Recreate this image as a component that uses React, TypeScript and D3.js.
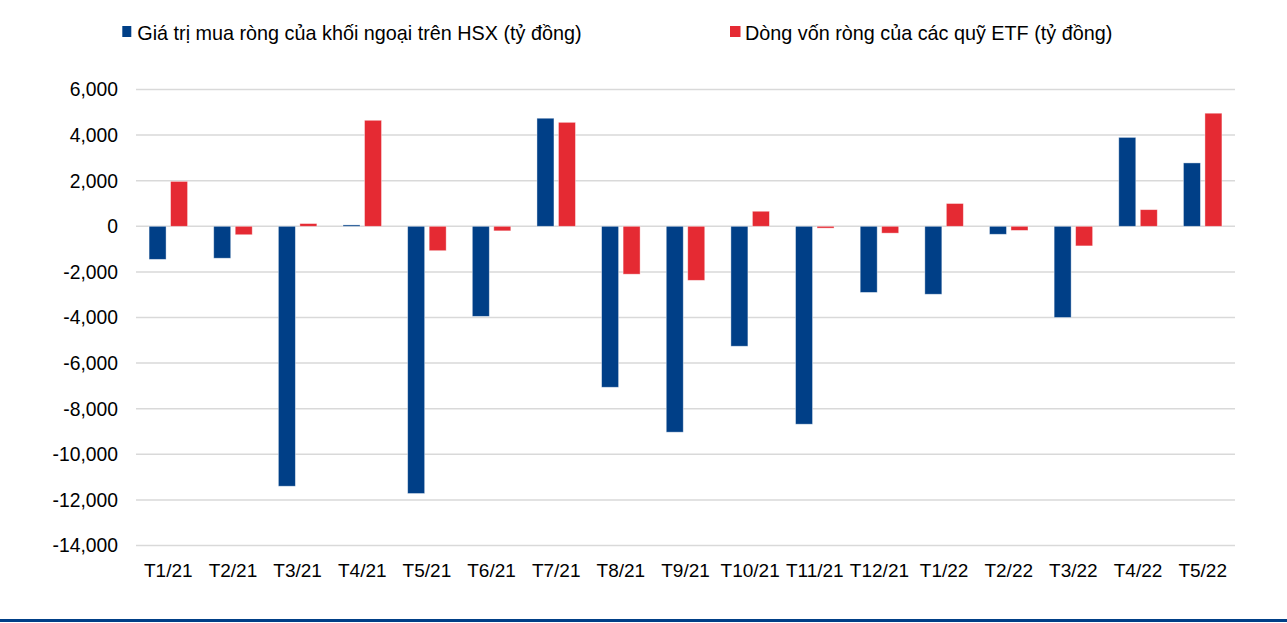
import React from "react";
import * as d3 from "d3";

const categories = ["T1/21","T2/21","T3/21","T4/21","T5/21","T6/21","T7/21","T8/21","T9/21","T10/21","T11/21","T12/21","T1/22","T2/22","T3/22","T4/22","T5/22"];
const foreignNet = [-1450,-1400,-11400,60,-11720,-3950,4740,-7060,-9030,-5260,-8680,-2900,-2980,-350,-4000,3900,2780];
const etfFlow = [1970,-370,120,4650,-1070,-200,4560,-2100,-2370,660,-80,-300,1000,-180,-860,730,4960];
const yTicks = [6000,4000,2000,0,-2000,-4000,-6000,-8000,-10000,-12000,-14000];
const seriesNames = ["Giá trị mua ròng của khối ngoại trên HSX (tỷ đồng)", "Dòng vốn ròng của các quỹ ETF (tỷ đồng)"];
const colors = ["#003f87", "#e52a33"];

export default function App() {
  const W = 1287, H = 623;
  const left = 136, right = 1235, top = 89.5, bottom = 545.5;
  const x = d3.scaleBand<string>().domain(categories).range([left, right]).paddingInner(0).paddingOuter(0);
  const y = d3.scaleLinear().domain([-14000, 6000]).range([bottom, top]);
  const bw = 17;
  const gap = 4.5;
  const fmt = (v: number) => d3.format(",")(v).replace("\u2212", "-");
  const font = "'Liberation Sans', Arial, sans-serif";
  const series = [foreignNet, etfFlow];
  return (
    <svg width={W} height={H} style={{ position: "absolute", left: 0, top: 0, background: "#fff" }} fontFamily={font}>
      {yTicks.map((t) => (
        <g key={t}>
          <line x1={left} x2={right} y1={y(t)} y2={y(t)} stroke="#d9d9d9" strokeWidth={1.5} />
          <text x={118} y={y(t)} dy="0.36em" textAnchor="end" fontSize={19.3} fill="#000">{fmt(t)}</text>
        </g>
      ))}
      {series.map((vals, si) =>
        vals.map((v, i) => {
          const cx = (x(categories[i]) as number) + x.bandwidth() / 2;
          const bx = si === 0 ? cx - gap / 2 - bw : cx + gap / 2;
          const y0 = y(0), y1 = y(v);
          return (
            <rect key={si + "-" + i} x={bx} y={Math.min(y0, y1)} width={bw} height={Math.max(Math.abs(y1 - y0), 0.5)} fill={colors[si]} stroke="rgba(255,255,255,0.5)" strokeWidth={0.8} />
          );
        })
      )}
      {categories.map((c) => (
        <text key={c} x={(x(c) as number) + x.bandwidth() / 2} y={577} textAnchor="middle" fontSize={19} fill="#000">{c}</text>
      ))}
      <rect x={122.3} y={26} width={9} height={11} fill={colors[0]} />
      <text x={137.3} y={39.5} fontSize={19.8} fill="#000">{seriesNames[0]}</text>
      <rect x={730} y={26} width={10.5} height={11} fill={colors[1]} />
      <text x={745} y={39.5} fontSize={19.8} fill="#000">{seriesNames[1]}</text>
      <rect x={0} y={619} width={W} height={3} fill="#003f87" />
    </svg>
  );
}
